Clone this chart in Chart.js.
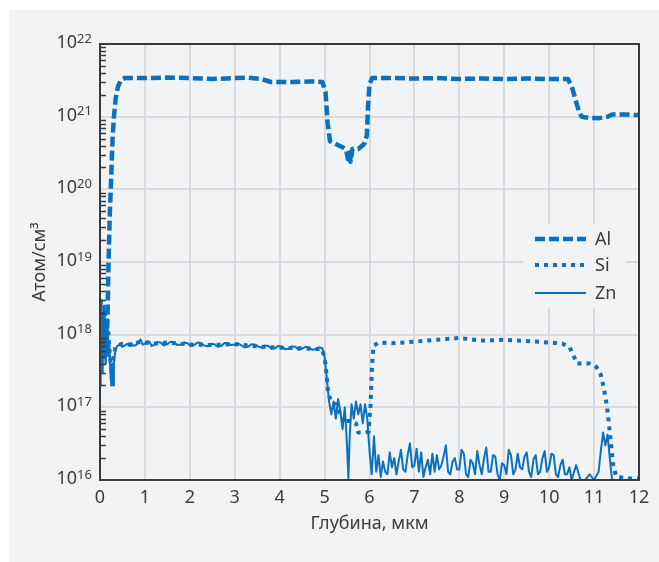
<!DOCTYPE html>
<html>
<head>
<meta charset="utf-8">
<script src="https://cdn.jsdelivr.net/npm/chart.js@4"></script>
<style>
  html, body { margin: 0; padding: 0; background: #ffffff; }
  #panel { position: absolute; left: 9px; top: 10px; width: 650px; height: 552px; background: #f2f3f5; }
  canvas { display: block; }
</style>
</head>
<body>
<div id="panel"><canvas id="chart" width="650" height="552"></canvas></div>
<script>
// depth, um
const alDepth = [0.14, 0.17, 0.19, 0.22, 0.25, 0.28, 0.31, 0.35, 0.40, 0.47, 0.55, 1.0, 1.5, 2.0, 2.5, 3.0, 3.3, 3.6, 3.8, 4.3, 4.7, 4.95,
  5.02, 5.07, 5.12, 5.25, 5.4, 5.48, 5.52, 5.55, 5.58, 5.62, 5.75, 5.88, 5.94, 5.97, 6.0, 6.06, 6.5, 7.0, 7.5, 8.0, 8.5, 9.0, 9.5, 10.0,
  10.42, 10.52, 10.6, 10.66, 10.72, 10.9, 11.1, 11.3, 11.4, 11.7, 12.0];
const alValues = [5e17, 2e18, 1e19, 5e19, 1.5e20, 5e20, 1e21, 1.8e21, 2.6e21, 3.2e21, 3.4e21, 3.4e21, 3.45e21, 3.4e21, 3.3e21, 3.4e21, 3.45e21, 3.3e21, 3.0e21, 3.0e21, 3.05e21, 3.0e21,
  2.2e21, 8e20, 4.6e20, 4.2e20, 3.8e20, 3.5e20, 2.6e20, 3.2e20, 2.4e20, 3.6e20, 3.6e20, 4.2e20, 5.5e20, 1.5e21, 2.8e21, 3.4e21, 3.4e21, 3.35e21, 3.4e21, 3.3e21, 3.35e21, 3.3e21, 3.35e21, 3.3e21,
  3.3e21, 2.4e21, 1.6e21, 1.2e21, 1.0e21, 9.6e20, 9.5e20, 1.0e21, 1.07e21, 1.07e21, 1.05e21];

const siDepth = [0.02, 0.05, 0.08, 0.11, 0.14, 0.18, 0.22, 0.26, 0.3, 0.35, 0.5, 0.7, 0.9, 1.2, 1.5, 2.0, 2.5, 3.0, 3.5, 4.0, 4.5, 4.95,
  5.02, 5.08, 5.15, 5.25, 5.35, 5.45, 5.5, 5.6, 5.7, 5.75, 5.85, 5.98, 6.02, 6.04, 6.06, 6.09, 6.2, 6.5, 7.0, 7.5, 8.0, 8.5, 9.0, 9.5, 10.0,
  10.3, 10.45, 10.55, 10.62, 10.9, 11.05, 11.15, 11.22, 11.28, 11.33, 11.38, 11.43, 11.5, 11.8, 12.0];
const siValues = [3e17, 1.5e18, 6e17, 2e18, 8e17, 1.2e18, 5e17, 3e17, 5e17, 7e17, 7.5e17, 7.2e17, 8e17, 7.5e17, 7.8e17, 7.3e17, 7.2e17, 7.4e17, 6.9e17, 6.6e17, 6.5e17, 6.3e17,
  4e17, 1.6e17, 1.15e17, 1.1e17, 8e16, 6e16, 6.5e16, 6.5e16, 6e16, 4.5e16, 4.5e16, 4.6e16, 1e17, 2e17, 4e17, 7e17, 7.8e17, 7.6e17, 8e17, 8.5e17, 9e17, 8.3e17, 8.5e17, 8.2e17, 7.8e17,
  7.5e17, 6.8e17, 5e17, 4e17, 4e17, 3.6e17, 2.8e17, 1.8e17, 1.1e17, 6e16, 3e16, 1.5e16, 1.1e16, 1.05e16, 1.05e16];

const znDepth = [0, 0.01, 0.02, 0.03, 0.04, 0.05, 0.06, 0.07, 0.08, 0.09, 0.10, 0.11, 0.12, 0.13,
  0.15, 0.17, 0.19, 0.21, 0.23, 0.25, 0.27, 0.29, 0.31, 0.34, 0.38,
  0.45, 0.5, 0.55, 0.62, 0.7, 0.75, 0.8, 0.85, 0.9, 0.95, 1.0, 1.05, 1.1, 1.15, 1.2, 1.27, 1.35, 1.42, 1.5, 1.57,
  1.65, 1.72, 1.8, 1.87, 1.95, 2.02, 2.1, 2.17, 2.25, 2.32, 2.4, 2.47, 2.55, 2.62, 2.7, 2.77, 2.85, 2.92, 3.0, 3.07,
  3.15, 3.22, 3.3, 3.37, 3.45, 3.52, 3.6, 3.67, 3.75, 3.82, 3.9, 3.97, 4.05, 4.12, 4.2, 4.27, 4.35, 4.42, 4.5, 4.57,
  4.65, 4.72, 4.8, 4.87, 4.95,
  5.0, 5.05, 5.1, 5.15, 5.2, 5.25, 5.3, 5.35, 5.4, 5.45, 5.5, 5.53, 5.56, 5.6, 5.65, 5.7, 5.75, 5.8, 5.85, 5.9, 5.95,
  6.0, 6.05, 6.1, 6.15, 6.2, 6.25, 6.3, 6.35, 6.4, 6.45,
  6.5, 6.55, 6.6, 6.65, 6.7, 6.75, 6.8, 6.85, 6.9, 6.95,
  7.0, 7.05, 7.1, 7.15, 7.2, 7.25, 7.3, 7.35, 7.4, 7.45,
  7.5, 7.55, 7.6, 7.65, 7.7, 7.75, 7.8, 7.85, 7.9, 7.95,
  8.0, 8.05, 8.1, 8.15, 8.2, 8.25, 8.3, 8.35, 8.4, 8.45,
  8.5, 8.55, 8.6, 8.65, 8.7, 8.75, 8.8, 8.85, 8.9, 8.95,
  9.0, 9.05, 9.1, 9.15, 9.2, 9.25, 9.3, 9.35, 9.4, 9.45,
  9.5, 9.55, 9.6, 9.65, 9.7, 9.75, 9.8, 9.85, 9.9, 9.95,
  10.0, 10.05, 10.1, 10.15, 10.2, 10.25, 10.3, 10.35, 10.4, 10.45,
  10.5,
  10.6, 10.7, 10.8, 10.9, 11.0, 11.1, 11.15, 11.2, 11.25, 11.3, 11.35, 11.4, 11.6, 12.0];
const znValues = [2e17, 1e18, 4e17, 3e18, 6e17, 2e18, 3e17, 1.5e18, 5e17, 2.5e18, 7e17, 1.8e18, 4e17, 1.2e18,
  6e17, 1.4e18, 5e17, 8e17, 3e17, 2e17, 4e17, 2e17, 4e17, 6e17, 7e17,
  7.3e17, 6.8e17, 7.1e17, 7.5e17, 7.6e17, 7.0e17, 7.2e17, 7.8e17, 8.6e17, 7.3e17, 7.5e17, 8.1e17, 8.0e17, 7.0e17, 7.2e17, 7.9e17, 7.8e17, 7.1e17, 7.4e17, 8.0e17,
  7.9e17, 7.2e17, 7.3e17, 7.8e17, 7.6e17, 7.0e17, 7.2e17, 7.8e17, 7.7e17, 7.1e17, 6.9e17, 7.5e17, 7.4e17, 6.8e17, 7.0e17, 7.7e17, 7.6e17, 7.2e17, 7.3e17, 7.6e17,
  7.1e17, 6.7e17, 6.8e17, 7.4e17, 7.3e17, 6.9e17, 6.6e17, 7.1e17, 7.0e17, 6.4e17, 6.5e17, 7.0e17, 6.9e17, 6.3e17, 6.4e17, 6.9e17, 6.8e17, 6.2e17, 6.4e17, 6.8e17,
  6.7e17, 6.2e17, 6.3e17, 6.7e17, 6.5e17,
  5e17, 2.5e17, 1.2e17, 8e16, 1.2e17, 7e16, 1.3e17, 9e16, 5e16, 1e17, 3e16, 1.05e16, 4e16, 1.1e17, 7e16, 1.2e17, 8e16, 1.1e17, 6e16, 1.1e17, 7e16,
  2.5e16, 1.2e16, 4e16, 1.3e16, 2.2e16, 1.1e16, 1.8e16, 1.3e16, 1.2e16, 2.4e16,
  1.5e16, 2.0e16, 1.2e16, 1.8e16, 2.6e16, 1.4e16, 1.3e16, 2.2e16, 3.2e16, 1.5e16,
  1.6e16, 2.7e16, 1.3e16, 2.4e16, 1.1e16, 1.5e16, 1.9e16, 1.2e16, 2.3e16, 1.3e16,
  2.2e16, 1.4e16, 1.6e16, 2.1e16, 3.0e16, 1.3e16, 1.2e16, 1.8e16, 2.0e16, 1.4e16,
  1.4e16, 2.6e16, 2.3e16, 1.2e16, 1.1e16, 1.9e16, 1.7e16, 1.2e16, 2.5e16, 1.6e16,
  1.2e16, 2.0e16, 2.8e16, 1.3e16, 1.3e16, 2.2e16, 2.1e16, 1.2e16, 1.0e16, 1.7e16,
  1.6e16, 1.2e16, 2.6e16, 2.2e16, 1.2e16, 1.4e16, 2.3e16, 1.5e16, 1.4e16, 2.1e16,
  2.4e16, 1.3e16, 1.1e16, 1.9e16, 2.2e16, 1.2e16, 1.3e16, 2.0e16, 2.5e16, 1.3e16,
  1.5e16, 2.3e16, 2.2e16, 1.2e16, 1.1e16, 1.6e16, 1.9e16, 1.2e16, 1.2e16, 1.5e16,
  1.0e16,
  1.6e16, 1.0e16, 1.0e16, 1.2e16, 1.0e16, 1.3e16, 2.5e16, 4.5e16, 3.0e16, 4.2e16, 2.0e16, 1.0e16, 1.0e16, 1.0e16];

const xTicks = [0, 12];
const yExponents = [16, 17, 18, 19, 20, 21, 22];
const seriesNames = ['Al', 'Si', 'Zn'];

const BLUE = '#0b70bd';
const TEXT = '#3d3d3d';
const GRID = '#d9dadd';
const FONT = '"Noto Sans", "DejaVu Sans", sans-serif';

const pts = (xs, ys) => xs.map((x, i) => ({x: x, y: ys[i]}));

const frame = {
  id: 'frame',
  afterDraw(chart) {
    const {ctx, chartArea: a, scales: {y}} = chart;
    ctx.save();
    ctx.strokeStyle = '#3a3a3a';
    ctx.lineWidth = 1.5;
    for (let e = yExponents[0]; e < yExponents[yExponents.length - 1]; e++) {
      for (let k = 2; k < 10; k++) {
        const py = Math.round(y.getPixelForValue(k * Math.pow(10, e))) + 0.5;
        ctx.beginPath(); ctx.moveTo(a.left, py); ctx.lineTo(a.left + 6, py); ctx.stroke();
      }
    }
    ctx.lineWidth = 2;
    ctx.strokeRect(a.left, a.top, a.right - a.left, a.bottom - a.top);

    // y labels as 10 with superscript
    ctx.fillStyle = TEXT;
    yExponents.forEach(e => {
      const py = y.getPixelForValue(Math.pow(10, e));
      ctx.font = '18px ' + FONT;
      ctx.textAlign = 'right'; ctx.textBaseline = 'middle';
      ctx.fillText('10', a.left - 23, py - 1);
      ctx.font = '13px ' + FONT;
      ctx.textAlign = 'left'; ctx.textBaseline = 'middle';
      ctx.fillText(String(e), a.left - 23, py - 5);
    });

    // legend
    ctx.fillStyle = '#f2f3f5';
    ctx.fillRect(514, 214, 103, 84);
    const rows = [229, 255, 283];
    chart.data.datasets.forEach((ds, i) => {
      ctx.strokeStyle = ds.borderColor;
      ctx.lineWidth = ds.borderWidth;
      ctx.setLineDash(ds.borderDash || []);
      ctx.beginPath(); ctx.moveTo(526, rows[i]); ctx.lineTo(577, rows[i]); ctx.stroke();
      ctx.setLineDash([]);
      ctx.fillStyle = TEXT;
      ctx.font = '18px ' + FONT;
      ctx.textAlign = 'left'; ctx.textBaseline = 'middle';
      ctx.fillText(ds.label, 586, rows[i] + 1);
    });
    ctx.restore();
  }
};

new Chart(document.getElementById('chart'), {
  type: 'line',
  data: {
    datasets: [
      {label: seriesNames[0], data: pts(alDepth, alValues), borderColor: BLUE, borderWidth: 4.5, borderDash: [10, 4]},
      {label: seriesNames[1], data: pts(siDepth, siValues), borderColor: BLUE, borderWidth: 4, borderDash: [4, 5]},
      {label: seriesNames[2], data: pts(znDepth, znValues), borderColor: BLUE, borderWidth: 2}
    ]
  },
  options: {
    responsive: false,
    animation: false,
    layout: {padding: {top: 34, right: 20, left: 0, bottom: 0}},
    elements: {point: {radius: 0}, line: {tension: 0, borderJoinStyle: 'round'}},
    plugins: {legend: {display: false}, tooltip: {enabled: false}},
    scales: {
      x: {
        type: 'linear', min: xTicks[0], max: xTicks[1],
        ticks: {stepSize: 1, color: TEXT, font: {family: FONT, size: 18}, padding: 7},
        grid: {color: GRID, lineWidth: 2, drawTicks: false},
        border: {display: false},
        title: {display: true, text: 'Глубина, мкм', color: TEXT, font: {family: FONT, size: 18}, padding: {bottom: 27}},
        afterFit: s => { s.height = 82; }
      },
      y: {
        type: 'logarithmic', min: 1e16, max: 1e22,
        afterBuildTicks: s => { s.ticks = yExponents.map(e => ({value: Math.pow(10, e)})); },
        ticks: {display: false},
        grid: {color: GRID, lineWidth: 2, drawTicks: false},
        border: {display: false},
        title: {display: true, text: 'Атом/см³', color: TEXT, font: {family: FONT, size: 18}, padding: {top: 20}},
        afterFit: s => { s.width = 91; }
      }
    }
  },
  plugins: [frame]
});
</script>
</body>
</html>
